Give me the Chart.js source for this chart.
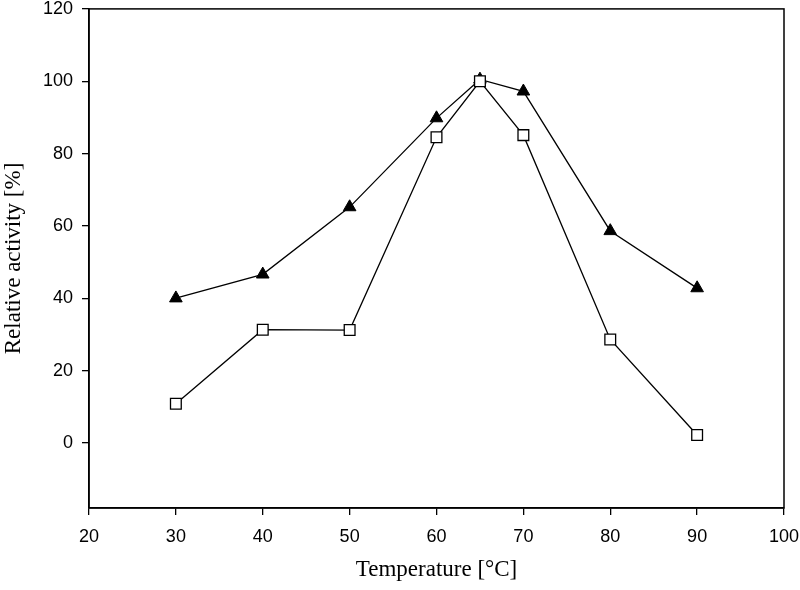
<!DOCTYPE html>
<html>
<head>
<meta charset="utf-8">
<script src="https://cdn.jsdelivr.net/npm/chart.js@4"></script>
<style>
html,body{margin:0;padding:0;background:#fff;}
#wrap{width:800px;height:590px;}
</style>
</head>
<body>
<div id="wrap"><canvas id="c" width="800" height="590"></canvas></div>
<script>
const temperatures = [30, 40, 50, 60, 65, 70, 80, 90];
const seriesTriangle = [40.0, 46.6, 65.2, 89.8, 100.5, 97.2, 58.6, 42.8];
const seriesSquare = [10.8, 31.3, 31.2, 84.5, 100.0, 85.1, 28.6, 2.2];
const yTickValues = [0, 20, 40, 60, 80, 100, 120];
const xTickValues = [20, 30, 40, 50, 60, 70, 80, 90, 100];

const toXY = (xs, ys) => xs.map((x, i) => ({x: x, y: ys[i]}));

const frame = {
  id: 'frame',
  afterDatasetsDraw(chart) {
    const a = chart.chartArea;
    const ctx = chart.ctx;
    ctx.save();
    ctx.strokeStyle = '#000';
    ctx.lineWidth = 1.5;
    ctx.strokeRect(a.left, a.top, a.right - a.left, a.bottom - a.top);
    ctx.restore();
  }
};

new Chart(document.getElementById('c'), {
  type: 'scatter',
  data: {
    datasets: [
      {
        label: 'square',
        data: toXY(temperatures, seriesSquare),
        showLine: true,
        borderColor: '#000',
        borderWidth: 1.3,
        pointStyle: 'rect',
        pointRadius: 7.6,
        pointHoverRadius: 7.6,
        pointBackgroundColor: '#fff',
        pointBorderColor: '#000',
        pointBorderWidth: 1.3
      },
      {
        label: 'triangle',
        data: toXY(temperatures, seriesTriangle),
        showLine: true,
        borderColor: '#000',
        borderWidth: 1.3,
        pointStyle: 'triangle',
        pointRadius: 7.3,
        pointHoverRadius: 7.3,
        pointBackgroundColor: '#000',
        pointBorderColor: '#000',
        pointBorderWidth: 1
      }
    ]
  },
  options: {
    responsive: false,
    animation: false,
    events: [],
    layout: {padding: {top: 7, right: 16, left: 0, bottom: 0}},
    plugins: {legend: {display: false}, tooltip: {enabled: false}},
    scales: {
      x: {
        type: 'linear',
        min: 20, max: 100,
        afterBuildTicks: (axis) => { axis.ticks = xTickValues.map(v => ({value: v})); },
        afterFit: (axis) => { axis.height = 82; axis.paddingRight = 0; axis.paddingLeft = 0; },
        grid: {display: true, drawOnChartArea: false, drawTicks: true, tickLength: 7, color: '#000', lineWidth: 1.3},
        border: {display: true, color: '#000', width: 1.5},
        ticks: {color: '#000', font: {family: 'Liberation Sans', size: 18}, padding: 11, maxRotation: 0},
        title: {display: true, text: 'Temperature [°C]', color: '#000', font: {family: 'Liberation Serif', size: 23}, padding: {top: 4, bottom: 6}}
      },
      y: {
        type: 'linear',
        min: -18, max: 120,
        afterBuildTicks: (axis) => { axis.ticks = yTickValues.map(v => ({value: v})); },
        afterFit: (axis) => { axis.width = 89; axis.paddingTop = 0; axis.paddingBottom = 0; },
        grid: {display: true, drawOnChartArea: false, drawTicks: true, tickLength: 7, color: '#000', lineWidth: 1.3},
        border: {display: true, color: '#000', width: 1.5},
        ticks: {color: '#000', font: {family: 'Liberation Sans', size: 18}, padding: 9},
        title: {display: true, text: 'Relative activity [%]', color: '#000', font: {family: 'Liberation Serif', size: 23}, padding: {top: 0, bottom: 2}}
      }
    }
  },
  plugins: [frame]
});
</script>
</body>
</html>
